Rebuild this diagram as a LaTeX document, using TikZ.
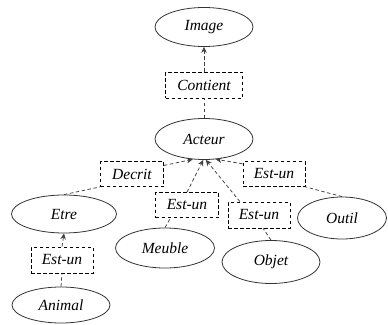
\documentclass[tikz,border=0pt]{standalone}
\usepackage{fontspec}
\setmainfont{Liberation Serif}
\usetikzlibrary{shapes.geometric,arrows.meta}
\tikzset{
	concept/.style={draw, ellipse, inner sep=0pt, line width=0.8pt, color=black!80, text=black, font=\fontsize{15.5}{17}\selectfont\itshape},
	relation/.style={draw, dashed, dash pattern=on 3.5pt off 2.5pt, inner sep=0pt, line width=0.7pt, font=\fontsize{15.5}{17}\selectfont\itshape},
	lien/.style={dashed, dash pattern=on 3.5pt off 2.5pt, line width=0.75pt, color=black!75},
	fleche/.style={lien, -{Stealth[length=6pt,width=5.5pt]}}
}
\begin{document}
\begin{tikzpicture}[x=1pt, y=-1pt]
			%%%%% START %%%%%
			\useasboundingbox (0, 0) rectangle (388, 324);
			
			\node[concept, minimum width=98, minimum height=39] (image) at (204, 27) {Image};
			\node[relation, minimum width=77, minimum height=26] (contient) at (204, 85) {Contient};
			\node[concept, minimum width=98, minimum height=41] (acteur) at (204, 139) {Acteur};
			
			\node[relation, minimum width=63, minimum height=25] (decrit) at (132, 174) {Decrit};
			\node[relation, minimum width=62, minimum height=25] (estunOutil) at (274, 174) {Est-un};
			\node[relation, minimum width=63, minimum height=25] (estunMeuble) at (187, 205) {Est-un};
			\node[relation, minimum width=62, minimum height=26] (estunObjet) at (259, 215) {Est-un};
			\node[relation, minimum width=62, minimum height=26] (estunAnimal) at (62, 260) {Est-un};
			
			\node[concept, minimum width=105, minimum height=38] (etre) at (64, 214) {Etre};
			\node[concept, minimum width=89, minimum height=42] (outil) at (342, 218) {Outil};
			\node[concept, minimum width=99, minimum height=40] (meuble) at (165, 248) {Meuble};
			\node[concept, minimum width=98, minimum height=43] (objet) at (271, 262) {Objet};
			\node[concept, minimum width=98, minimum height=36] (animal) at (61, 305) {Animal};
			
			\draw[lien] (acteur) -- (contient);
			\draw[fleche] (contient) -- (image);
			
			\draw[lien] (etre.north) -- (decrit.south west);
			\draw[fleche] (decrit.15) -- (acteur.241);
			\draw[lien] (meuble.north) -- (estunMeuble.218);
			\draw[fleche] (estunMeuble.north) -- (acteur.268);
			\draw[lien] (objet.north) -- (estunObjet.287);
			\draw[fleche] (estunObjet.145) -- (acteur.275);
			\draw[lien] (outil.north) -- (estunOutil.south east);
			\draw[fleche] (estunOutil.162) -- (acteur.300);
			
			\draw[lien] (animal.north) -- (estunAnimal.south);
			\draw[fleche] (estunAnimal.north) -- (etre.south);
			%%%%% END %%%%%
\end{tikzpicture}
\end{document}
